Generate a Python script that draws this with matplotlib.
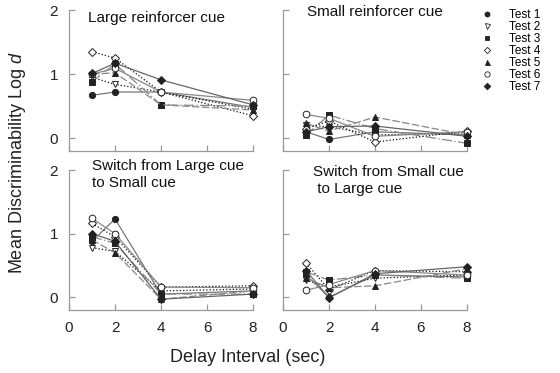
import matplotlib
matplotlib.use("Agg")
import matplotlib.pyplot as plt
from matplotlib.lines import Line2D

plt.rcParams['font.family'] = ['Liberation Sans', 'DejaVu Sans']
plt.rcParams['mathtext.fontset'] = 'custom'
plt.rcParams['mathtext.it'] = 'Liberation Sans:italic'
plt.rcParams['mathtext.rm'] = 'Liberation Sans'

delays = [1, 2, 4, 8]
tests = ["Test 1", "Test 2", "Test 3", "Test 4", "Test 5", "Test 6", "Test 7"]

large_cue = [
    [0.67, 0.72, 0.72, 0.48],
    [0.95, 0.84, 0.72, 0.45],
    [0.88, 1.16, 0.52, 0.50],
    [1.35, 1.25, 0.72, 0.35],
    [1.00, 1.02, 0.52, 0.44],
    [1.00, 1.09, 0.72, 0.59],
    [1.01, 1.17, 0.91, 0.52],
]
small_cue = [
    [0.10, -0.02, 0.10, 0.05],
    [0.20, 0.18, 0.05, 0.08],
    [0.05, 0.36, 0.15, -0.08],
    [0.15, 0.27, -0.06, 0.11],
    [0.23, 0.11, 0.33, 0.05],
    [0.37, 0.31, 0.03, 0.10],
    [0.10, 0.18, 0.19, 0.03],
]
large_to_small = [
    [0.88, 1.23, 0.05, 0.10],
    [0.78, 0.72, 0.10, 0.13],
    [0.95, 0.85, 0.05, 0.05],
    [1.16, 0.95, 0.16, 0.18],
    [0.90, 0.70, -0.03, 0.10],
    [1.24, 1.00, 0.16, 0.15],
    [1.00, 0.88, -0.03, 0.05],
]
small_to_large = [
    [0.35, 0.00, 0.35, 0.32],
    [0.27, 0.16, 0.30, 0.35],
    [0.40, 0.27, 0.35, 0.30],
    [0.54, 0.12, 0.42, 0.40],
    [0.30, 0.15, 0.18, 0.45],
    [0.11, 0.20, 0.42, 0.35],
    [0.42, -0.01, 0.37, 0.48],
]

panel_titles = ["Large reinforcer cue", "Small reinforcer cue",
                "Switch from Large cue\nto Small cue",
                "Switch from Small cue\n to Large cue"]

markers = ['o', 'v', 's', 'D', '^', 'o', 'D']
mfaces = ['#222222', 'white', '#222222', 'white', '#222222', 'white', '#222222']
msizes = [4.5, 4.5, 4.2, 4.0, 4.5, 4.8, 4.2]
lstyles = ['-', ':', (0, (8, 2, 1, 2)), ':', (0, (6, 2)), '-', '-']
lcolors = ['#777777', '#111111', '#888888', '#111111', '#888888', '#888888', '#666666']

W, H = 560, 373
fig = plt.figure(figsize=(W / 100, H / 100), dpi=100)

def ax_at(x0, y_top, x1, y_bot):
    return fig.add_axes([x0 / W, 1 - y_bot / H, (x1 - x0) / W, (y_bot - y_top) / H])

axes = [ax_at(69, 10, 253, 151), ax_at(283, 10, 467, 151),
        ax_at(69, 170, 253, 310), ax_at(283, 170, 467, 310)]
datas = [large_cue, small_cue, large_to_small, small_to_large]
title_pos = [(0.103, 0.99), (0.13, 1.035), (0.125, 1.08), (0.163, 1.035)]

for i, (ax, data) in enumerate(zip(axes, datas)):
    for j, vals in enumerate(data):
        ax.plot(delays, vals, linestyle=lstyles[j], color=lcolors[j], lw=0.9,
                marker=markers[j], markersize=msizes[j], markerfacecolor=mfaces[j],
                markeredgecolor='#222222', markeredgewidth=0.7, clip_on=False)
    ax.set_xlim(0, 8)
    ax.set_ylim(-0.2, 2)
    ax.set_xticks([0, 2, 4, 6, 8])
    ax.set_yticks([0, 1, 2])
    for s in ['top', 'right']:
        ax.spines[s].set_visible(False)
    for s in ['left', 'bottom']:
        ax.spines[s].set_color('#999999')
        ax.spines[s].set_linewidth(0.9)
    ax.spines['left'].set_bounds(-0.2, 2)
    ax.tick_params(direction='in', length=4, color='#999999', width=0.9,
                   labelsize=11, colors='#999999', labelcolor='#222222')
    ax.tick_params(axis='x', pad=8)
    ax.tick_params(axis='y', pad=8)
    if i < 2:
        ax.set_xticklabels([])
    if i % 2 == 1:
        ax.set_yticklabels([])
    tx, ty = title_pos[i]
    ax.text(tx, ty, panel_titles[i], transform=ax.transAxes, ha='left', va='top',
            fontsize=11, color='#111111', linespacing=1.3)

handles = [Line2D([], [], linestyle='none', marker=markers[j], markersize=msizes[j] * 0.8,
                  markerfacecolor=mfaces[j], markeredgecolor='#222222', markeredgewidth=0.6)
           for j in range(len(tests))]
fig.legend(handles, tests, loc='upper left', bbox_to_anchor=(481 / W, 1 - 9 / H),
           frameon=False, fontsize=8.5, handlelength=1.0, handletextpad=1.4,
           labelspacing=0.0, borderaxespad=0, borderpad=0)

fig.text(248 / W, 1 - 358 / H, "Delay Interval (sec)", ha='center', va='center',
         fontsize=13, color='#222222')
fig.text(18 / W, 1 - 163 / H, "Mean Discriminability Log $d$", ha='center', va='center',
         rotation=90, fontsize=13, color='#222222')

fig.savefig("out.png", dpi=100)
